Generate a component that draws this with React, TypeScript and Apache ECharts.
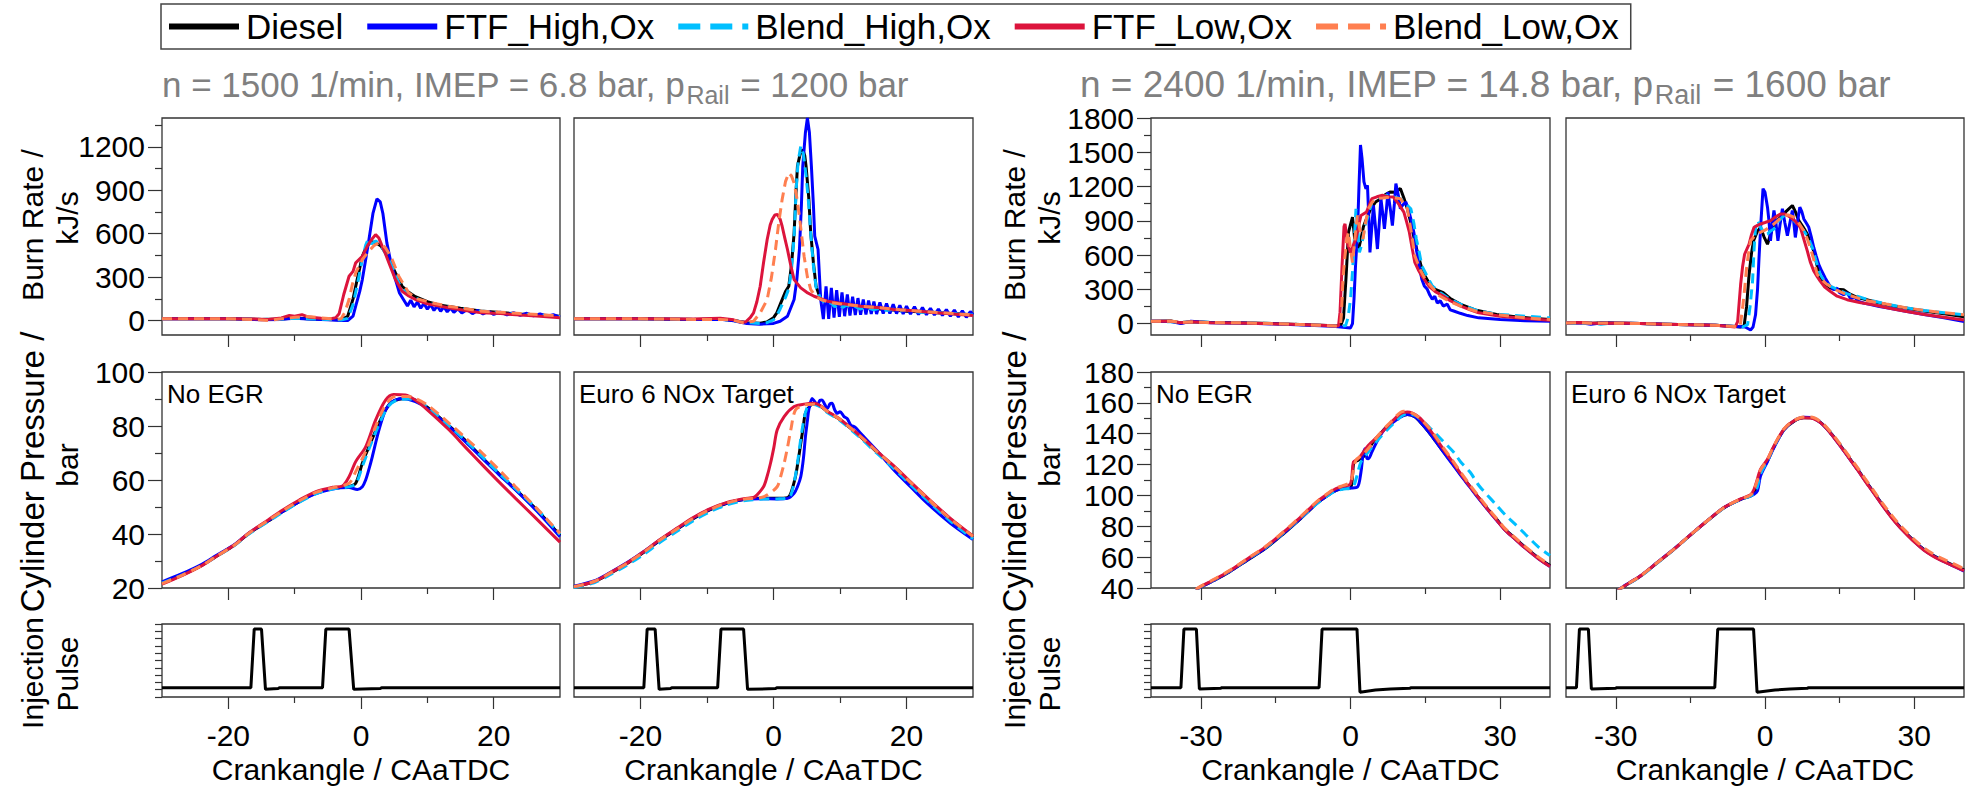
import React, { useEffect, useRef } from 'react';
import * as echarts from 'echarts';

const SERIES_NAMES = ['Diesel', 'FTF_High,Ox', 'Blend_High,Ox', 'FTF_Low,Ox', 'Blend_Low,Ox'];
const COLORS = ['#000000', '#0000ff', '#00bfff', '#dc143c', '#ff7f50'];
const DASHED = [false, false, true, false, true];

const TITLE_PARTS_LEFT = ['n = 1500 1/min, IMEP = 6.8 bar, p', 'Rail', ' = 1200 bar'];
const TITLE_PARTS_RIGHT = ['n = 2400 1/min, IMEP = 14.8 bar, p', 'Rail', ' = 1600 bar'];
const CASE_LABELS = ['No EGR', 'Euro 6 NOx Target', 'No EGR', 'Euro 6 NOx Target'];
const Y_NAME_LINES = [['Burn Rate /', 'kJ/s'], ['Cylinder Pressure /', 'bar'], ['Injection', 'Pulse']];
const X_NAME = 'Crankangle / CAaTDC';

// tick values
const X_MAJOR_A = [-20, 0, 20];
const X_MINOR_A = [-10, 10];
const X_MAJOR_B = [-30, 0, 30];
const X_MINOR_B = [-15, 15];
const BURN_LABELS_A = [0, 300, 600, 900, 1200];
const BURN_MINOR_A = [150, 450, 750, 1050, 1350];
const BURN_LABELS_B = [0, 300, 600, 900, 1200, 1500, 1800];
const BURN_MINOR_B = [150, 450, 750, 1050, 1350, 1650];

// ---------- Burn rate, 1500 rpm, No EGR ----------
const P1_BURN_DIESEL = [[-30,12],[-20,12],[-15,8],[-12,10],[-10,18],[-8,12],[-5,8],[-3,5],[-2,30],[-1.2,150],[-0.5,300],[0.2,444],[0.8,510],[1.5,545],[2.2,540],[3,515],[3.7,470],[4.2,422],[5.2,329],[6.2,237],[7.2,195],[8.2,165],[10,130],[12,105],[15,85],[18,66],[21,55],[24,45],[27,38],[30,30]];
const P1_BURN_FTFH = [[-30,12],[-20,12],[-15,6],[-12,8],[-10,15],[-8,10],[-5,5],[-3,0],[-2,0],[-1.2,30],[-0.8,99],[-0.2,200],[0.2,283],[0.7,420],[1.2,560],[1.8,740],[2.4,841],[2.9,820],[3.3,740],[3.9,537],[4.5,400],[5.2,283],[5.8,190],[6.4,145],[7,100],[7.5,140],[8,95],[8.5,128],[9,85],[9.5,118],[10,78],[10.5,110],[11,70],[11.5,102],[12,64],[12.5,95],[13,60],[13.5,88],[14,56],[14.6,82],[15.2,52],[16,76],[16.8,48],[17.6,70],[18.4,45],[19.2,64],[20,42],[21,58],[22,40],[23,54],[24,36],[25,50],[26,33],[27,46],[28,28],[29,40],[30,24]];
const P1_BURN_BLENDH = [[-30,12],[-20,12],[-15,8],[-12,10],[-10,16],[-8,12],[-5,8],[-3,4],[-2,15],[-1.2,110],[-0.5,260],[0.2,420],[0.7,520],[1.1,565],[1.6,530],[2.2,550],[2.8,530],[3.5,480],[4.2,420],[5,340],[5.8,250],[6.6,200],[7.5,170],[8.5,150],[10,120],[12,100],[15,82],[18,64],[21,52],[24,44],[27,36],[30,28]];
const P1_BURN_FTFL = [[-30,12],[-20,12],[-16,10],[-14,8],[-12,18],[-10.8,35],[-10,30],[-8.9,41],[-8,25],[-6,15],[-4.5,12],[-3.8,20],[-3.3,47],[-2.6,180],[-1.8,306],[-1.2,340],[-0.8,399],[0.2,444],[1,520],[1.6,560],[2.2,594],[2.7,570],[3.2,513],[3.7,460],[4.2,399],[5.2,283],[6.2,202],[7.2,170],[8.2,145],[10,115],[13.2,88],[16,68],[18.2,53],[21,48],[24,38],[27,30],[30,19]];
const P1_BURN_BLENDL = [[-30,12],[-20,12],[-16,6],[-14,0],[-12,12],[-10,22],[-8,28],[-6,18],[-4,10],[-3,12],[-2.4,60],[-1.8,145],[-1.3,250],[-0.8,329],[0.2,422],[1.2,479],[2,520],[2.7,537],[3.2,525],[3.7,502],[4.2,465],[4.7,422],[5.7,306],[7.2,191],[8.5,150],[10.7,122],[13,100],[16,80],[18.2,64],[21,58],[24,48],[27,40],[30,33]];

// ---------- Burn rate, 1500 rpm, Euro 6 ----------
const P2_BURN_DIESEL = [[-30,12],[-20,12],[-12,8],[-8,10],[-6,0],[-4,-15],[-2,-18],[-1,-10],[0,20],[0.5,53],[1.1,122],[1.8,200],[2.3,237],[2.7,380],[3.1,606],[3.4,900],[3.6,1066],[4,1150],[4.4,1182],[4.7,1140],[4.9,1066],[5.3,850],[5.6,606],[6,400],[6.4,237],[7.1,145],[8,120],[9,110],[10,105],[12,95],[14,88],[16,80],[18,72],[20,65],[22,60],[24,55],[26,50],[28,45],[30,40]];
const P2_BURN_FTFH = [[-30,12],[-20,12],[-12,8],[-8,8],[-6,-2],[-4,-20],[-2,-25],[0,-20],[1,-5],[2.1,30],[3.1,145],[3.5,280],[3.9,491],[4.2,800],[4.4,1066],[4.8,1300],[5.1,1400],[5.4,1300],[5.7,1066],[6,800],[6.2,583],[6.7,491],[7.1,145],[7.5,10],[7.9,237],[8.3,12],[8.7,225],[9.1,20],[9.5,210],[9.9,25],[10.3,195],[10.7,30],[11.1,180],[11.5,35],[11.9,165],[12.3,38],[12.7,155],[13.1,40],[13.5,145],[13.9,42],[14.3,138],[14.7,45],[15.1,132],[15.5,45],[16,125],[16.5,48],[17,118],[17.5,48],[18,112],[18.5,48],[19,105],[19.5,45],[20,100],[20.6,45],[21.2,95],[21.8,42],[22.4,90],[23,40],[23.6,85],[24.2,38],[24.8,80],[25.4,35],[26,76],[26.6,30],[27.2,72],[27.8,25],[28.4,68],[29,22],[29.6,62],[30,40]];
const P2_BURN_BLENDH = [[-30,12],[-20,12],[-12,8],[-8,10],[-6,0],[-4,-15],[-2,-20],[-1,-15],[0,5],[0.5,35],[1,80],[1.8,160],[2.3,220],[2.7,350],[3.1,580],[3.4,900],[3.7,1100],[4.1,1205],[4.5,1150],[4.9,1000],[5.3,800],[5.6,600],[6,380],[6.4,230],[7.1,150],[8,110],[8.6,125],[9.2,95],[9.8,115],[10.4,90],[11,108],[11.6,85],[12.2,100],[13,80],[14,90],[15,75],[16,85],[17,70],[18,78],[19,65],[20,72],[22,58],[24,58],[26,48],[28,46],[30,38]];
const P2_BURN_FTFL = [[-30,12],[-20,12],[-12,10],[-8,15],[-6,5],[-5,-10],[-4.2,-10],[-3.5,20],[-3,53],[-2.5,130],[-2,237],[-1.5,400],[-0.95,560],[-0.5,660],[-0.2,698],[0.2,730],[0.6,733],[1,700],[1.3,652],[1.7,570],[2.1,491],[2.6,380],[3.1,283],[4.1,226],[5,195],[6.1,168],[8.1,134],[10,120],[13.1,99],[16,88],[18.1,76],[21,68],[24,55],[27,45],[30,35]];
const P2_BURN_BLENDL = [[-30,12],[-20,12],[-12,8],[-8,8],[-6,2],[-4.5,-15],[-3,-5],[-2,53],[-0.95,145],[-0.3,300],[0.3,491],[0.8,680],[1.3,836],[1.8,960],[2.3,1020],[2.7,1000],[3.1,951],[3.5,850],[3.9,721],[4.2,600],[4.6,445],[5.1,300],[5.6,214],[6.3,170],[7.1,145],[8.5,125],[10.6,111],[13,100],[16,88],[19,75],[22,65],[25,55],[28,45],[30,38]];

// ---------- Burn rate, 2400 rpm, No EGR ----------
const P3_BURN_DIESEL = [[-40,20],[-36,22],[-34,5],[-32,15],[-28,10],[-20,5],[-12,-5],[-6,-15],[-3,-20],[-2,-20],[-1.4,50],[-0.9,400],[-0.4,800],[0.4,932],[0.8,760],[1.1,653],[1.6,650],[2.1,741],[2.6,850],[3.2,917],[4,1000],[5,1064],[6,1090],[7,1130],[7.9,1152],[9,1150],[10,1182],[10.7,1100],[11.4,1005],[12,900],[12.5,800],[13,700],[13.6,594],[14.5,450],[15.7,359],[17,300],[18.6,270],[20,220],[22.1,168],[25,120],[29.3,79],[33,60],[37,45],[40,35]];
const P3_BURN_FTFH = [[-40,20],[-36,18],[-34,0],[-32,20],[-28,8],[-20,3],[-12,-8],[-6,-18],[-3,-25],[-1,-35],[0,-38],[0.4,0],[0.7,212],[1,500],[1.4,800],[1.7,1200],[2,1564],[2.3,1450],[2.7,1241],[3.1,1180],[3.4,1211],[3.7,900],[3.9,623],[4.2,800],[4.6,1035],[5,850],[5.4,653],[5.8,900],[6.1,1094],[6.5,950],[6.8,829],[7.2,1000],[7.5,1152],[8,1000],[8.4,858],[8.8,1050],[9.1,1226],[9.6,1120],[10,1005],[10.5,1040],[11.1,1064],[11.6,1000],[12.1,917],[12.7,800],[13.2,653],[13.8,500],[14.3,388],[14.8,330],[15.4,300],[15.9,250],[16.4,212],[16.9,240],[17.4,180],[18,200],[18.6,153],[19.4,170],[20,120],[20.7,110],[22,90],[23.5,70],[25.7,50],[30,35],[35,25],[40,20]];
const P3_BURN_BLENDH = [[-40,20],[-36,15],[-34,10],[-32,18],[-28,10],[-20,5],[-12,-5],[-6,-15],[-3,-20],[-1,-20],[-0.5,50],[0,212],[0.4,450],[0.7,682],[1.1,1005],[1.5,800],[1.8,623],[2.3,700],[2.9,858],[3.6,950],[4.3,1064],[5.5,1100],[7.1,1123],[8.5,1110],[10,1094],[11,1050],[12.1,1005],[12.7,880],[13.2,741],[13.8,620],[14.3,506],[15.3,420],[16.4,329],[18,270],[20,212],[22.5,160],[25.7,109],[30,80],[35,65],[40,50]];
const P3_BURN_FTFL = [[-40,20],[-36,20],[-34,8],[-32,15],[-28,8],[-20,3],[-12,-5],[-6,-15],[-3,-22],[-2.4,-20],[-2.1,100],[-1.7,500],[-1.3,850],[-1.1,873],[-0.6,700],[0,623],[0.5,680],[1.1,741],[1.6,850],[2.1,947],[3.2,976],[4.3,1094],[5.3,1110],[6.4,1123],[7.5,1110],[8.6,1108],[9.6,1050],[10.7,976],[11.2,900],[11.8,800],[12.4,650],[12.9,535],[13.6,470],[14.3,417],[15.7,329],[17,280],[18.6,241],[20,200],[22.1,153],[24,120],[25.7,94],[30,65],[35,45],[40,30]];
const P3_BURN_BLENDL = [[-40,20],[-36,20],[-34,12],[-32,14],[-28,10],[-20,5],[-12,-5],[-6,-15],[-3,-22],[-2,-15],[-1.8,100],[-1.5,400],[-1.1,594],[-0.7,750],[-0.4,800],[0,650],[0.4,535],[0.9,750],[1.4,947],[1.9,820],[2.5,741],[3,880],[3.6,1005],[4.3,1060],[5,1094],[6.5,1100],[7.9,1108],[9,1100],[10,1094],[10.7,1050],[11.4,1005],[12.2,800],[12.9,594],[14,470],[15,388],[16.5,310],[17.9,241],[20,190],[22.1,153],[25,110],[30,75],[35,50],[40,35]];

// ---------- Burn rate, 2400 rpm, Euro 6 ----------
const P4_BURN_DIESEL = [[-40,5],[-37,10],[-35,0],[-33,8],[-30,5],[-25,0],[-20,-5],[-15,-10],[-10,-15],[-6,-25],[-5,-30],[-4.2,-20],[-3.7,150],[-3.2,430],[-2.7,620],[-2.3,725],[-1.6,800],[-0.9,843],[-0.2,760],[0.5,695],[1.1,780],[1.8,872],[2.4,900],[3.1,931],[4.2,980],[5.5,1034],[6.1,980],[6.8,901],[7.6,850],[8.5,784],[9.2,700],[9.8,636],[10.4,520],[11.1,400],[12,350],[13.1,312],[14.5,300],[15.8,297],[17,260],[18.5,230],[21.8,194],[25,160],[28.5,135],[32,110],[36,85],[40,60]];
const P4_BURN_FTFH = [[-40,5],[-37,8],[-35,-5],[-33,5],[-30,3],[-25,0],[-20,-5],[-15,-10],[-10,-15],[-6,-25],[-4,-30],[-2.9,-56],[-2.4,-30],[-1.9,77],[-1.5,300],[-1.2,577],[-0.8,900],[-0.4,1181],[0,1150],[0.5,1019],[0.8,900],[1.1,725],[1.4,850],[1.8,990],[2.2,880],[2.6,725],[3,860],[3.5,1005],[4,880],[4.5,769],[5,880],[5.5,990],[5.8,880],[6.1,754],[6.5,880],[7,1019],[7.4,980],[7.8,916],[8.3,880],[8.8,843],[9.3,760],[9.8,666],[10.3,590],[10.8,518],[11.4,460],[12.1,400],[12.9,340],[13.8,297],[14.5,310],[15,270],[15.8,253],[16.5,270],[17.2,220],[18,230],[18.8,195],[19.8,180],[21,170],[23,150],[25.1,135],[28,110],[32,80],[36,50],[40,18]];
const P4_BURN_BLENDH = [[-40,5],[-37,0],[-35,8],[-33,-5],[-30,5],[-25,0],[-20,-5],[-15,-10],[-10,-15],[-6,-25],[-4.5,-30],[-3.5,-10],[-3,150],[-2.5,371],[-2.2,650],[-1.9,843],[-1.4,900],[-0.9,843],[-0.2,800],[0.5,784],[1.1,810],[1.8,828],[2.6,890],[3.8,946],[4.8,960],[5.8,901],[6.8,860],[7.8,813],[8.6,760],[9.5,666],[10.2,560],[11.1,430],[12,370],[13.1,327],[15,290],[16.5,260],[18.5,239],[21.5,200],[25.1,165],[28,140],[32,115],[36,95],[40,77]];
const P4_BURN_FTFL = [[-40,5],[-37,10],[-35,5],[-33,0],[-30,5],[-25,0],[-20,-5],[-15,-10],[-10,-15],[-7,-25],[-6,-30],[-5.5,18],[-5.2,180],[-4.9,342],[-4.5,500],[-4.1,607],[-3.2,695],[-2.7,780],[-2.2,843],[-1.5,860],[-0.9,872],[0,885],[1.1,901],[2,930],[3.1,960],[4,960],[5.1,931],[6,900],[7.1,843],[7.8,740],[8.5,636],[9.1,540],[9.8,460],[10.5,410],[11.1,371],[12,320],[13.1,283],[14.5,240],[16.5,209],[19,185],[21.8,165],[25,135],[28.5,106],[32,80],[36,55],[40,32]];
const P4_BURN_BLENDL = [[-40,5],[-37,8],[-35,2],[-33,5],[-30,3],[-25,0],[-20,-5],[-15,-10],[-10,-15],[-6,-25],[-5,-25],[-4.5,136],[-4.1,300],[-3.7,489],[-3.3,620],[-2.9,725],[-2.2,760],[-1.5,784],[-0.9,800],[-0.2,813],[0.8,840],[1.8,872],[2.8,910],[3.8,946],[4.8,950],[5.8,931],[6.8,880],[7.8,813],[8.5,740],[9.1,666],[9.8,560],[10.5,430],[11.5,380],[12.5,342],[14.5,290],[16.5,253],[20,205],[25.1,165],[28,140],[32,115],[36,95],[40,77]];

// ---------- Cylinder pressure ----------
const P1_PRES_DIESEL = [[-30,21.7],[-27,24.8],[-24,28.4],[-21.9,31.6],[-19,36],[-16.9,40.2],[-14,44.8],[-11.8,48.3],[-9.3,52],[-6.8,55.1],[-4.3,56.9],[-1.8,57.6],[-0.8,58.8],[0.2,66.2],[1.2,72.3],[2.7,81],[4.2,87.8],[5.7,89.9],[7.2,90.2],[8.2,89.6],[10,87],[13.3,80],[15.8,74.5],[18.3,68.2],[20.8,62.3],[23.3,56.5],[26.5,49],[30,39.5]];
const P1_PRES_FTFH = [[-30,22.3],[-27,25.3],[-24,28.8],[-21.9,31.9],[-19,36.2],[-16.9,40.4],[-14,44.9],[-11.8,48.3],[-9.3,52],[-6.8,55],[-4.3,56.7],[-1.8,57.2],[-0.55,56.5],[0.2,57.5],[0.7,60],[1.2,64],[1.7,68.6],[2.7,78.5],[3.7,85.9],[4.7,89],[6.2,90.2],[8.2,89],[10,86.5],[13.3,79.8],[15.8,74],[18.3,68],[20.8,62],[23.3,56.3],[26.5,48.5],[30,39]];
const P1_PRES_BLENDH = [[-30,21.8],[-27,24.8],[-24,28.3],[-21.9,31.5],[-19,35.9],[-16.9,40],[-14,44.6],[-11.8,48.1],[-9.3,51.8],[-6.8,54.9],[-4.3,56.7],[-1.8,57.5],[-0.8,58.5],[0.2,65],[1.2,71.5],[2.7,80.5],[4.2,87.5],[5.7,89.8],[7.2,90],[8.2,89.5],[10,87],[13.3,80],[15.8,74.5],[18.3,68.5],[20.8,62.5],[23.3,56.8],[26.5,49.3],[30,39.8]];
const P1_PRES_FTFL = [[-30,21.4],[-27,24.6],[-24,28.3],[-21.9,31.6],[-19,36.1],[-16.9,40.4],[-14,45.2],[-11.8,48.9],[-9.3,52.6],[-6.8,55.7],[-4.3,57.3],[-2.8,57.8],[-1.8,61.2],[-0.8,66.8],[0.7,72.3],[2.2,82.2],[3.7,89.6],[4.9,91.7],[6.7,91.5],[8.2,89.6],[10,86],[13.3,78.5],[15.8,72],[18.3,65.6],[20.8,59.3],[23.3,53.2],[26.5,45.5],[30,37]];
const P1_PRES_BLENDL = [[-30,21.6],[-27,24.7],[-24,28.3],[-21.9,31.6],[-19,36],[-16.9,40.3],[-14,45],[-11.8,48.6],[-9.3,52.3],[-6.8,55.4],[-4.3,57.1],[-1.8,58.8],[-0.8,63.1],[0.7,70.5],[2.2,79.8],[3.7,87.8],[5.2,90.9],[7.2,90.9],[8.2,90.2],[10,87.8],[13.3,81],[15.8,75.5],[18.3,69.9],[20.8,63.8],[23.3,57.5],[26.5,49.5],[30,40.2]];

const P2_PRES_DIESEL = [[-30,20.5],[-27,22.3],[-24.5,25.5],[-22,29.1],[-19.5,33.2],[-17,37.8],[-14.5,41.8],[-12,45.8],[-9.5,49],[-7,51.4],[-4.5,52.8],[-2,53.2],[0.55,53.2],[2.1,53.4],[2.6,55.1],[3.3,61.2],[3.7,67],[4.1,73.6],[4.5,80],[4.8,84.7],[5.6,87.8],[6.1,88.4],[7,87.5],[8.1,85.3],[10,82.3],[13.1,76],[15.5,70.5],[18.1,64.9],[20.6,59],[23.1,53.2],[26.6,45.5],[30,39]];
const P2_PRES_FTFH = [[-30,20.7],[-27,22.6],[-24.5,25.8],[-22,29.4],[-19.5,33.5],[-17,38],[-14.5,42],[-12,46],[-9.5,49.2],[-7,51.5],[-4.5,52.8],[-2,53.1],[0.55,53],[2.1,53.2],[3.1,55.1],[3.6,57.5],[4.1,61.2],[4.5,68],[4.8,76],[5.1,82],[5.3,85.9],[5.8,90.2],[6.2,89],[6.6,87.8],[7,89.5],[7.3,89.6],[7.7,88],[8.1,86.5],[8.5,88.2],[8.8,88.4],[9.2,86],[9.6,84.7],[10,85.3],[10.6,83.5],[11.1,82.7],[11.6,80.4],[12.3,79.5],[13.1,77.3],[15.5,71],[18.1,63.7],[20.6,57.5],[23.1,51.4],[26.6,44],[30,38]];
const P2_PRES_BLENDH = [[-30,20.2],[-27,21.9],[-24.5,25],[-22,28.5],[-19.5,32.5],[-17,37],[-14.5,41],[-12,45],[-9.5,48.3],[-7,50.8],[-4.5,52.3],[-2,52.9],[0.55,53],[2.1,53.3],[2.6,54.4],[3.1,59],[3.6,66.2],[4.3,78.5],[5,86.5],[5.8,88.1],[7,87.2],[8.1,85],[10,82],[13.1,75.5],[15.5,70],[18.1,64.3],[20.6,58.3],[23.1,52.5],[26.6,44.8],[30,38.2]];
const P2_PRES_FTFL = [[-30,20.5],[-27,22.4],[-24.5,25.7],[-22,29.3],[-19.5,33.5],[-17,38.1],[-14.5,42.2],[-12,46.2],[-9.5,49.4],[-7,51.7],[-4.5,53.1],[-3,53.5],[-2.5,54.4],[-1.5,57.5],[-1,61],[-0.45,66.2],[0.05,72],[0.55,78.5],[1.6,83.5],[3.1,87.2],[4.6,88.1],[6.1,88.4],[7,87.6],[8.1,85.5],[10,82.5],[13.1,76.2],[15.5,70.8],[18.1,65.2],[20.6,59.3],[23.1,53.5],[26.6,45.8],[30,39.3]];
const P2_PRES_BLENDL = [[-30,20.5],[-27,22.4],[-24.5,25.6],[-22,29.2],[-19.5,33.3],[-17,37.9],[-14.5,41.9],[-12,45.9],[-9.5,49.1],[-7,51.5],[-4.5,52.9],[-2,53.4],[-1,54.4],[0.55,57.5],[1.1,61.5],[1.6,66.2],[2.1,72],[2.6,78.5],[3.3,85.9],[4.6,87.8],[6.1,88.1],[7,87.5],[8.1,85.4],[10,82.4],[13.1,76.1],[15.5,70.6],[18.1,65],[20.6,59.1],[23.1,53.3],[26.6,45.6],[30,39.1]];

const P3_PRES_DIESEL = [[-31,38.8],[-30,40.7],[-27,45.5],[-24.3,50.4],[-20.7,58],[-17.1,65.5],[-13.5,75],[-10,85],[-8.2,90.5],[-6.4,95.8],[-4.6,100],[-2.9,103.3],[-1.4,104.5],[0,104.8],[0.4,113],[0.7,121.7],[1.4,122.5],[2.9,126],[4.3,133.6],[5.7,139],[7.1,144],[8.6,148],[10,151],[11.4,152.5],[12.9,151],[14.3,146.5],[15.7,141],[17.1,135],[18.6,128.5],[20.4,121],[22.1,113.5],[23.9,106],[25.7,98.5],[27.5,91.3],[29.3,84.5],[31,78],[32.9,72.5],[35,66.5],[37.7,59.5],[40,54.5]];
const P3_PRES_FTFH = [[-31,38.8],[-30,40.7],[-27,45.6],[-24.3,50.5],[-20.7,58.2],[-17.1,65.8],[-13.5,75.3],[-10,85.2],[-8.2,90.6],[-6.4,95.8],[-4.6,100],[-2.9,103.3],[-1.4,104.5],[0,104.8],[1.4,105.5],[2.1,115.2],[2.5,126],[2.9,130.3],[3.3,124],[3.6,123.8],[4.3,128.2],[5.3,135],[6.4,141.1],[7.5,145],[8.6,147.6],[10,150.8],[11.4,152.4],[12.9,151],[14.3,146.5],[15.7,141.1],[17.1,135],[18.6,128.2],[20.4,120.5],[22.1,113],[23.9,105.5],[25.7,97.9],[27.5,90.8],[29.3,83.9],[31,77.5],[32.9,72],[35,66],[37.7,59],[40,54]];
const P3_PRES_BLENDH = [[-31,38.8],[-30,40.9],[-27,45.8],[-24.3,50.8],[-20.7,58.5],[-17.1,66],[-13.5,75.5],[-10,85.3],[-8.2,90.6],[-6.4,95.6],[-4.6,99.8],[-2.9,103],[-1.4,104.2],[0,104.6],[0.7,106.6],[1.4,114],[2.1,121.7],[3.6,128.2],[5.7,136.8],[8.6,146.5],[11.4,153],[12.9,152],[14.3,148.7],[15.7,144.5],[17.1,140],[18.6,135],[20.7,128],[22.1,121.7],[24,115],[25.7,106.6],[27.5,100],[29.3,93.6],[31,87.5],[32.9,81.7],[35,75],[37.7,66.5],[40,61]];
const P3_PRES_FTFL = [[-31,39],[-30,41],[-27,46],[-24.3,51],[-20.7,58.8],[-17.1,66.5],[-13.5,76],[-10,86],[-8.2,91.5],[-6.4,96.8],[-4.6,101],[-2.9,104.5],[-1.4,106],[0,107.6],[0.6,121.7],[1.4,123.4],[2.1,126],[3.6,132.5],[5.7,139],[7.9,146.5],[10,153],[11.4,154.1],[13.6,151],[15.7,143.5],[18.6,130],[20.4,122],[22.1,114],[23.9,106],[25.7,98.5],[27.5,91],[29.3,84],[31,77.5],[32.9,72],[35,66],[37.7,59],[40,54]];
const P3_PRES_BLENDL = [[-31,39],[-30,41.2],[-27,46.3],[-24.3,51.3],[-20.7,59],[-17.1,66.8],[-13.5,76.3],[-10,86.3],[-8.2,91.8],[-6.4,97],[-4.6,101.3],[-2.9,104.8],[-1.4,106.5],[0,108.7],[1.1,122.8],[2.5,126.5],[4,132],[5.7,139.5],[7.9,147],[10.7,154.5],[12.9,152.5],[15.7,144],[18.6,131],[20.4,123],[22.1,115],[23.9,107],[25.7,99.5],[27.5,92],[29.3,85],[31,78.5],[32.9,73],[35,67],[37.7,60],[40,55]];

const P4_PRES_DIESEL = [[-30,37],[-28.7,40.3],[-25,47.8],[-21.6,56.5],[-18.3,65.1],[-15,74.3],[-11.6,83.5],[-8.2,92.1],[-4.9,97.5],[-2.9,99.7],[-2.2,102],[-1.5,108],[-0.9,115],[0.5,122.5],[1.8,131.5],[3.8,142.5],[5.8,148],[7.8,150.3],[9.2,150.3],[11.2,147.2],[13.2,140.5],[15.2,132.1],[16.9,124.5],[18.6,117],[20.2,109.5],[21.9,101.8],[23.6,94],[25.3,86.7],[26.9,80.5],[28.6,74.8],[30.3,69.5],[31.9,65.1],[33.6,61.5],[35.3,58.6],[37.7,55],[40,51.7]];
const P4_PRES_FTFH = [[-30,37.2],[-28.7,40.5],[-25,48],[-21.6,56.7],[-18.3,65.3],[-15,74.5],[-11.6,83.6],[-8.2,92.2],[-4.9,97.5],[-2.9,99.7],[-2.2,100.7],[-1.5,103],[-0.9,112.6],[0.5,122],[1.8,131],[3.8,142.5],[5.8,148.3],[7.8,150.6],[9.2,150.5],[11.2,147],[13.2,140.2],[15.2,131.8],[16.9,124.2],[18.6,116.7],[20.2,109.2],[21.9,101.5],[23.6,93.7],[25.3,86.4],[26.9,80.2],[28.6,74.5],[30.3,69.2],[31.9,64.8],[33.6,61.2],[35.3,58.2],[37.7,54.5],[40,51]];
const P4_PRES_BLENDH = [[-30,37],[-28.7,40.2],[-25,47.6],[-21.6,56.3],[-18.3,65],[-15,74.2],[-11.6,83.4],[-8.2,92],[-4.9,97.4],[-2.9,99.6],[-2.2,101.5],[-1.5,106],[-0.9,114],[0.5,122.5],[1.8,131.5],[3.8,142.7],[5.8,148.2],[7.8,150.5],[9.2,150.5],[11.2,147.5],[13.2,140.8],[15.2,132.5],[16.9,125],[18.6,117.5],[20.2,110],[21.9,102.3],[23.6,94.5],[25.3,87.2],[26.9,81],[28.6,75.3],[30.3,70],[31.9,65.6],[33.6,62],[35.3,59],[37.7,55.5],[40,52.2]];
const P4_PRES_FTFL = [[-30,37.1],[-28.7,40.4],[-25,47.9],[-21.6,56.6],[-18.3,65.2],[-15,74.4],[-11.6,83.6],[-8.2,92.3],[-4.9,97.8],[-2.9,100.5],[-2.2,104],[-1.5,111],[-0.9,117],[0.5,123.4],[1.8,132.1],[3.8,142.9],[5.8,148.3],[7.8,150.4],[9.2,150.2],[11.2,147],[13.2,140.2],[15.2,131.8],[16.9,124.2],[18.6,116.6],[20.2,109],[21.9,101.3],[23.6,93.5],[25.3,86.2],[26.9,80],[28.6,74.3],[30.3,69],[31.9,64.6],[33.6,61],[35.3,58],[37.7,54.5],[40,51.2]];
const P4_PRES_BLENDL = [[-30,37.1],[-28.7,40.4],[-25,47.9],[-21.6,56.6],[-18.3,65.2],[-15,74.4],[-11.6,83.6],[-8.2,92.2],[-4.9,97.6],[-2.9,100.2],[-2.2,104],[-1.5,110],[-0.9,116.5],[0.5,123.4],[1.8,132.3],[3.8,143.1],[5.8,148.6],[7.8,150.8],[9.2,150.8],[11.2,147.8],[13.2,141.2],[15.2,132.9],[16.9,125.4],[18.6,118],[20.2,110.5],[21.9,102.8],[23.6,95],[25.3,87.8],[26.9,81.6],[28.6,75.9],[30.3,70.6],[31.9,66.2],[33.6,62.5],[35.3,59.5],[37.7,56],[40,52.5]];

// ---------- Injection pulse (arbitrary units 0..10) ----------
const P1_INJ = [[-30,1.28],[-16.6,1.28],[-16.1,9.3],[-15,9.3],[-14.4,1.05],[-12.5,1.15],[-12.3,1.28],[-5.8,1.28],[-5.3,9.3],[-1.8,9.3],[-1.1,1.05],[2.9,1.15],[3.1,1.28],[30,1.28]];
const P2_INJ = [[-30,1.28],[-19.5,1.28],[-19,9.3],[-17.8,9.3],[-17.2,1.05],[-15.5,1.15],[-15.3,1.28],[-8.4,1.28],[-7.9,9.3],[-4.5,9.3],[-3.9,1.05],[0.3,1.15],[0.5,1.28],[30,1.28]];
const P3_INJ = [[-40,1.28],[-34,1.28],[-33.4,9.3],[-30.9,9.3],[-30.3,1.1],[-26,1.2],[-25.8,1.28],[-6.3,1.28],[-5.7,9.3],[1.3,9.3],[1.9,0.65],[5,0.95],[8,1.1],[11.9,1.2],[12.2,1.28],[40,1.28]];
const P4_INJ = [[-40,1.28],[-37.9,1.28],[-37.3,9.3],[-35.5,9.3],[-34.9,1.1],[-30,1.2],[-29.8,1.28],[-10.1,1.28],[-9.5,9.3],[-2.3,9.3],[-1.6,0.65],[2,0.95],[5,1.1],[8.5,1.2],[8.8,1.28],[40,1.28]];

const FONT_REG = "'Liberation Sans', Arial, Helvetica, sans-serif";
const AX_COLOR = '#333';
const TITLE_COLOR = '#808080';
const ICON_SOLID = 'path://M0,0h70v6h-70z';
const ICON_DASH = 'path://M0,0h22v6h-22z M32,0h22v6h-22z M64,0h6v6h-6z';

function measureText(text: string, size: number): number {
  const canvas = document.createElement('canvas');
  const ctx = canvas.getContext('2d');
  if (!ctx) return text.length * size * 0.55;
  ctx.font = `${size}px ${FONT_REG}`;
  return ctx.measureText(text).width;
}

function titleGraphics(parts: string[], left: number, yc: number, size: number): any[] {
  const sub = Math.round(size * 0.72);
  const w0 = measureText(parts[0], size);
  const w1 = measureText(parts[1], sub);
  const base = { fill: TITLE_COLOR, fontFamily: FONT_REG, align: 'left', verticalAlign: 'middle' };
  return [
    { type: 'text', x: left, y: yc, silent: true, style: { ...base, text: parts[0], fontSize: size } },
    { type: 'text', x: left + w0 + 1, y: yc + size * 0.3, silent: true, style: { ...base, text: parts[1], fontSize: sub } },
    { type: 'text', x: left + w0 + w1 + 2, y: yc, silent: true, style: { ...base, text: parts[2], fontSize: size } },
  ];
}

function buildOption(): any {
  const cols = [
    { left: 162, width: 398, min: -30, max: 30, major: X_MAJOR_A, minor: X_MINOR_A },
    { left: 574, width: 399, min: -30, max: 30, major: X_MAJOR_A, minor: X_MINOR_A },
    { left: 1151, width: 399, min: -40, max: 40, major: X_MAJOR_B, minor: X_MINOR_B },
    { left: 1566, width: 398, min: -40, max: 40, major: X_MAJOR_B, minor: X_MINOR_B },
  ];
  const rows = [
    { top: 118, height: 217 },
    { top: 372, height: 216 },
    { top: 624, height: 73 },
  ];
  const burn = [
    [P1_BURN_DIESEL, P1_BURN_FTFH, P1_BURN_BLENDH, P1_BURN_FTFL, P1_BURN_BLENDL],
    [P2_BURN_DIESEL, P2_BURN_FTFH, P2_BURN_BLENDH, P2_BURN_FTFL, P2_BURN_BLENDL],
    [P3_BURN_DIESEL, P3_BURN_FTFH, P3_BURN_BLENDH, P3_BURN_FTFL, P3_BURN_BLENDL],
    [P4_BURN_DIESEL, P4_BURN_FTFH, P4_BURN_BLENDH, P4_BURN_FTFL, P4_BURN_BLENDL],
  ];
  const pres = [
    [P1_PRES_DIESEL, P1_PRES_FTFH, P1_PRES_BLENDH, P1_PRES_FTFL, P1_PRES_BLENDL],
    [P2_PRES_DIESEL, P2_PRES_FTFH, P2_PRES_BLENDH, P2_PRES_FTFL, P2_PRES_BLENDL],
    [P3_PRES_DIESEL, P3_PRES_FTFH, P3_PRES_BLENDH, P3_PRES_FTFL, P3_PRES_BLENDL],
    [P4_PRES_DIESEL, P4_PRES_FTFH, P4_PRES_BLENDH, P4_PRES_FTFL, P4_PRES_BLENDL],
  ];
  const inj = [P1_INJ, P2_INJ, P3_INJ, P4_INJ];

  const grid: any[] = [];
  const xAxis: any[] = [];
  const yAxis: any[] = [];
  const series: any[] = [];
  const tickLine = { color: AX_COLOR, width: 1.2 };
  const noLine = { show: false, onZero: false };
  const plain = (v: number) => String(v);

  rows.forEach((row, r) => {
    cols.forEach((col, c) => {
      const g = grid.length;
      grid.push({
        left: col.left, top: row.top, width: col.width, height: row.height,
        show: true, borderColor: AX_COLOR, borderWidth: 1.3, backgroundColor: 'transparent',
      });
      const xi = xAxis.length;
      xAxis.push({
        gridIndex: g, type: 'value', min: col.min, max: col.max, position: 'bottom',
        axisLine: noLine, splitLine: { show: false },
        axisTick: { show: true, customValues: col.major, length: 12, lineStyle: tickLine },
        axisLabel: {
          show: r === 2, customValues: col.major, margin: 23, formatter: plain,
          fontSize: 30, fontFamily: FONT_REG, color: '#000',
        },
        name: r === 2 ? X_NAME : '',
        nameLocation: 'middle', nameGap: 57,
        nameTextStyle: { fontSize: 30, fontFamily: FONT_REG, color: '#000' },
      });
      xAxis.push({
        gridIndex: g, type: 'value', min: col.min, max: col.max, position: 'bottom',
        axisLine: noLine, splitLine: { show: false },
        axisTick: { show: true, customValues: col.minor, length: 6, lineStyle: tickLine },
        axisLabel: { show: false },
      });
      const yi = yAxis.length;
      const leftCol = c === 0 || c === 2;
      const base: any = {
        gridIndex: g, type: 'value', position: 'left',
        axisLine: noLine, splitLine: { show: false },
      };
      if (r === 0) {
        const maxV = c < 2 ? 1400 : 1800;
        const labels = c < 2 ? BURN_LABELS_A : BURN_LABELS_B;
        const minors = c < 2 ? BURN_MINOR_A : BURN_MINOR_B;
        yAxis.push({
          ...base, min: -100, max: maxV,
          axisTick: { show: leftCol, customValues: labels, length: 14, lineStyle: tickLine },
          axisLabel: { show: leftCol, customValues: labels, margin: 17, formatter: plain, fontSize: 30, fontFamily: FONT_REG, color: '#000' },
        });
        if (leftCol) {
          yAxis.push({
            ...base, min: -100, max: maxV,
            axisTick: { show: true, customValues: minors, length: 7, lineStyle: tickLine },
            axisLabel: { show: false },
          });
        }
      } else if (r === 1) {
        const minV = c < 2 ? 20 : 40;
        const maxV = c < 2 ? 100 : 180;
        yAxis.push({
          ...base, min: minV, max: maxV, interval: 20,
          axisTick: { show: leftCol, length: 14, lineStyle: tickLine },
          minorTick: { show: leftCol, splitNumber: 2, length: 7, lineStyle: tickLine },
          minorSplitLine: { show: false },
          axisLabel: { show: leftCol, margin: 17, formatter: plain, fontSize: 30, fontFamily: FONT_REG, color: '#000' },
        });
      } else {
        yAxis.push({
          ...base, min: 0, max: 10, interval: 1,
          axisTick: { show: leftCol, length: 7, lineStyle: tickLine },
          axisLabel: { show: false },
        });
      }

      if (r < 2) {
        const set = r === 0 ? burn[c] : pres[c];
        set.forEach((data, k) => {
          series.push({
            type: 'line', name: SERIES_NAMES[k], xAxisIndex: xi, yAxisIndex: yi,
            data, symbol: 'none', showSymbol: false, silent: true, clip: true,
            smooth: r === 1 ? 0.3 : false,
            lineStyle: { color: COLORS[k], width: 3, type: DASHED[k] ? [10, 6] : 'solid' },
            itemStyle: { color: COLORS[k] },
          });
        });
      } else {
        series.push({
          type: 'line', name: SERIES_NAMES[0], xAxisIndex: xi, yAxisIndex: yi,
          data: inj[c], symbol: 'none', showSymbol: false, silent: true, clip: true,
          lineStyle: { color: COLORS[0], width: 3 },
          itemStyle: { color: COLORS[0] },
        });
      }
    });
  });

  const graphic: any[] = [];
  // panel case labels
  CASE_LABELS.forEach((t, c) => {
    graphic.push({
      type: 'text', left: cols[c].left + 5, top: 381, silent: true,
      style: { text: t, fontSize: 26, fontFamily: FONT_REG, fill: '#000' },
    });
  });
  // y-axis names (two lines each, rotated)
  const nameCx = [50, 1032];
  const lineSpec = [
    { y: [225, 218], size: [30, 30] },
    { y: [472, 465], size: [33, 30] },
    { y: [673, 674], size: [30, 30] },
  ];
  nameCx.forEach((cx) => {
    lineSpec.forEach((spec, r) => {
      Y_NAME_LINES[r].forEach((txt, li) => {
        graphic.push({
          type: 'text', x: cx + (li === 0 ? -17.5 : 17.5), y: spec.y[li], rotation: Math.PI / 2, silent: true,
          style: {
            text: txt, fontSize: spec.size[li], fontFamily: FONT_REG,
            fill: '#000', align: 'center', verticalAlign: 'middle',
          },
        });
      });
    });
  });
  // condition titles with subscript
  graphic.push(...titleGraphics(TITLE_PARTS_LEFT, 162, 84, 35));
  graphic.push(...titleGraphics(TITLE_PARTS_RIGHT, 1080, 84, 37));

  return {
    animation: false,
    backgroundColor: '#ffffff',
    textStyle: { fontFamily: FONT_REG },
    legend: {
      data: SERIES_NAMES.map((n, k) => ({ name: n, icon: DASHED[k] ? ICON_DASH : ICON_SOLID })),
      left: 161, top: 4, orient: 'horizontal',
      padding: [5, 12, 5, 8], itemGap: 24, itemWidth: 70, itemHeight: 6,
      borderColor: '#444', borderWidth: 1.5,
      textStyle: { fontSize: 35, fontFamily: FONT_REG, color: '#000', padding: [0, 0, 0, 2] },
    },
    grid, xAxis, yAxis, series, graphic,
  };
}

export default function App() {
  const ref = useRef<HTMLDivElement>(null);
  useEffect(() => {
    document.body.style.margin = '0';
    const chart = echarts.init(ref.current as HTMLDivElement, null, { renderer: 'svg' });
    chart.setOption(buildOption());
    return () => chart.dispose();
  }, []);
  return <div ref={ref} style={{ width: 1970, height: 787 }} />;
}
